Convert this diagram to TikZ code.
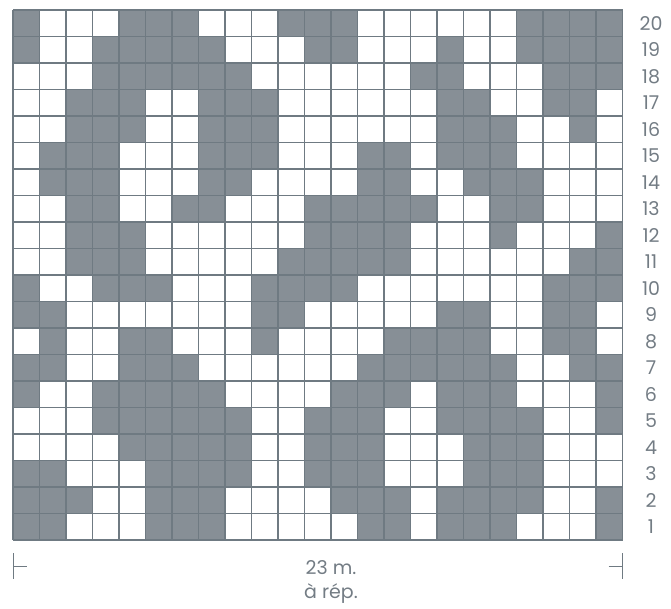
\documentclass[tikz,border=0pt]{standalone}
\usepackage{fontspec}
\setmainfont{Poppins}
\usepackage{xcolor}
\usepackage{tikz}
\usetikzlibrary{positioning}

\definecolor{stitchgray}{HTML}{878F96}
\definecolor{gridgray}{HTML}{6F7A82}
\definecolor{labelgray}{HTML}{737C84}

\begin{document}
\begin{tikzpicture}[x=1pt, y=-1pt,
  rowlabel/.style={text=labelgray, font=\fontsize{19}{22}\selectfont, inner sep=0pt},
  bracket/.style={draw=gridgray, line width=1pt}]
\useasboundingbox (0,0) rectangle (671,608);

% Stitches (1 = contrast colour)
\foreach \r/\cells in {
  20/{1,0,0,0,1,1,1,0,0,0,1,1,1,0,0,0,0,0,0,1,1,1,1},
  19/{1,0,0,1,1,1,1,1,0,0,0,1,1,0,0,0,1,0,0,1,1,1,1},
  18/{0,0,0,1,1,1,1,1,1,0,0,0,0,0,0,1,1,0,0,0,1,1,1},
  17/{0,0,1,1,1,0,0,1,1,1,0,0,0,0,0,0,1,1,0,0,1,1,0},
  16/{0,0,1,1,1,0,0,1,1,1,0,0,0,0,0,0,1,1,1,0,0,1,0},
  15/{0,1,1,1,0,0,0,1,1,1,0,0,0,1,1,0,1,1,1,0,0,0,0},
  14/{0,1,1,1,0,0,0,1,1,0,0,0,0,1,1,0,0,1,1,1,0,0,0},
  13/{0,0,1,1,0,0,1,1,0,0,0,1,1,1,1,1,0,0,1,1,0,0,0},
  12/{0,0,1,1,1,0,0,0,0,0,0,1,1,1,1,0,0,0,1,0,0,0,1},
  11/{0,0,1,1,1,0,0,0,0,0,1,1,1,1,1,0,0,0,0,0,0,1,1},
  10/{1,0,0,1,1,1,0,0,0,1,1,1,1,0,0,0,0,0,0,0,1,1,1},
  9/{1,1,0,0,0,0,0,0,0,1,1,0,0,0,0,0,1,1,0,0,1,1,0},
  8/{0,1,0,0,1,1,0,0,0,1,0,0,0,0,1,1,1,1,0,0,1,1,0},
  7/{1,1,0,0,1,1,1,0,0,0,0,0,0,1,1,1,1,1,1,0,0,1,1},
  6/{1,0,0,1,1,1,1,1,0,0,0,0,1,1,1,0,1,1,1,0,0,0,1},
  5/{0,0,0,1,1,1,1,1,1,0,0,1,1,1,0,0,1,1,1,1,0,0,1},
  4/{0,0,0,0,1,1,1,1,1,0,0,1,1,1,0,0,0,1,1,1,0,0,0},
  3/{1,1,0,0,0,1,1,1,1,0,0,1,1,1,0,0,0,1,1,1,0,0,0},
  2/{1,1,1,0,0,1,1,1,0,0,0,0,1,1,1,0,1,1,1,1,0,0,1},
  1/{1,1,0,0,0,1,1,1,0,0,0,0,0,1,1,0,1,1,1,0,0,0,1}}{
  \foreach \c [count=\i] in \cells {
    \ifnum\c=1
      \fill[stitchgray] ({13+(\i-1)*26.5},{10+(20-\r)*26.5}) rectangle ++(26.5,26.5);
    \fi
  }
  \node[rowlabel] (row\r) at (651,{10+(20.5-\r)*26.5}) {\r};
}

% Grid
\foreach \i in {0,...,23}
  \draw[gridgray, line width=1.3pt] ({13+\i*26.5},10) -- ++(0,530);
\foreach \j in {0,...,20}
  \draw[gridgray, line width=1.3pt] (13,{10+\j*26.5}) -- ++(609.5,0);

% Repeat width
\coordinate (leftTop) at (13.3,553);
\coordinate (leftBot) at (13.3,579);
\coordinate (leftTick) at (26.7,566);
\coordinate (rightTop) at (622.7,553);
\coordinate (rightBot) at (622.7,579);
\coordinate (rightTick) at (608.5,566);
\draw[bracket] (leftTop) -- (leftBot);
\draw[bracket] (leftTick) -- (leftTop |- leftTick);
\draw[bracket] (rightTop) -- (rightBot);
\draw[bracket] (rightTick) -- (rightTop |- rightTick);

\node[text=labelgray, font=\fontsize{19}{24}\selectfont, align=center, inner sep=0pt] (repeat) at (331,582) {23 m.\\à rép.};

\end{tikzpicture}
\end{document}
